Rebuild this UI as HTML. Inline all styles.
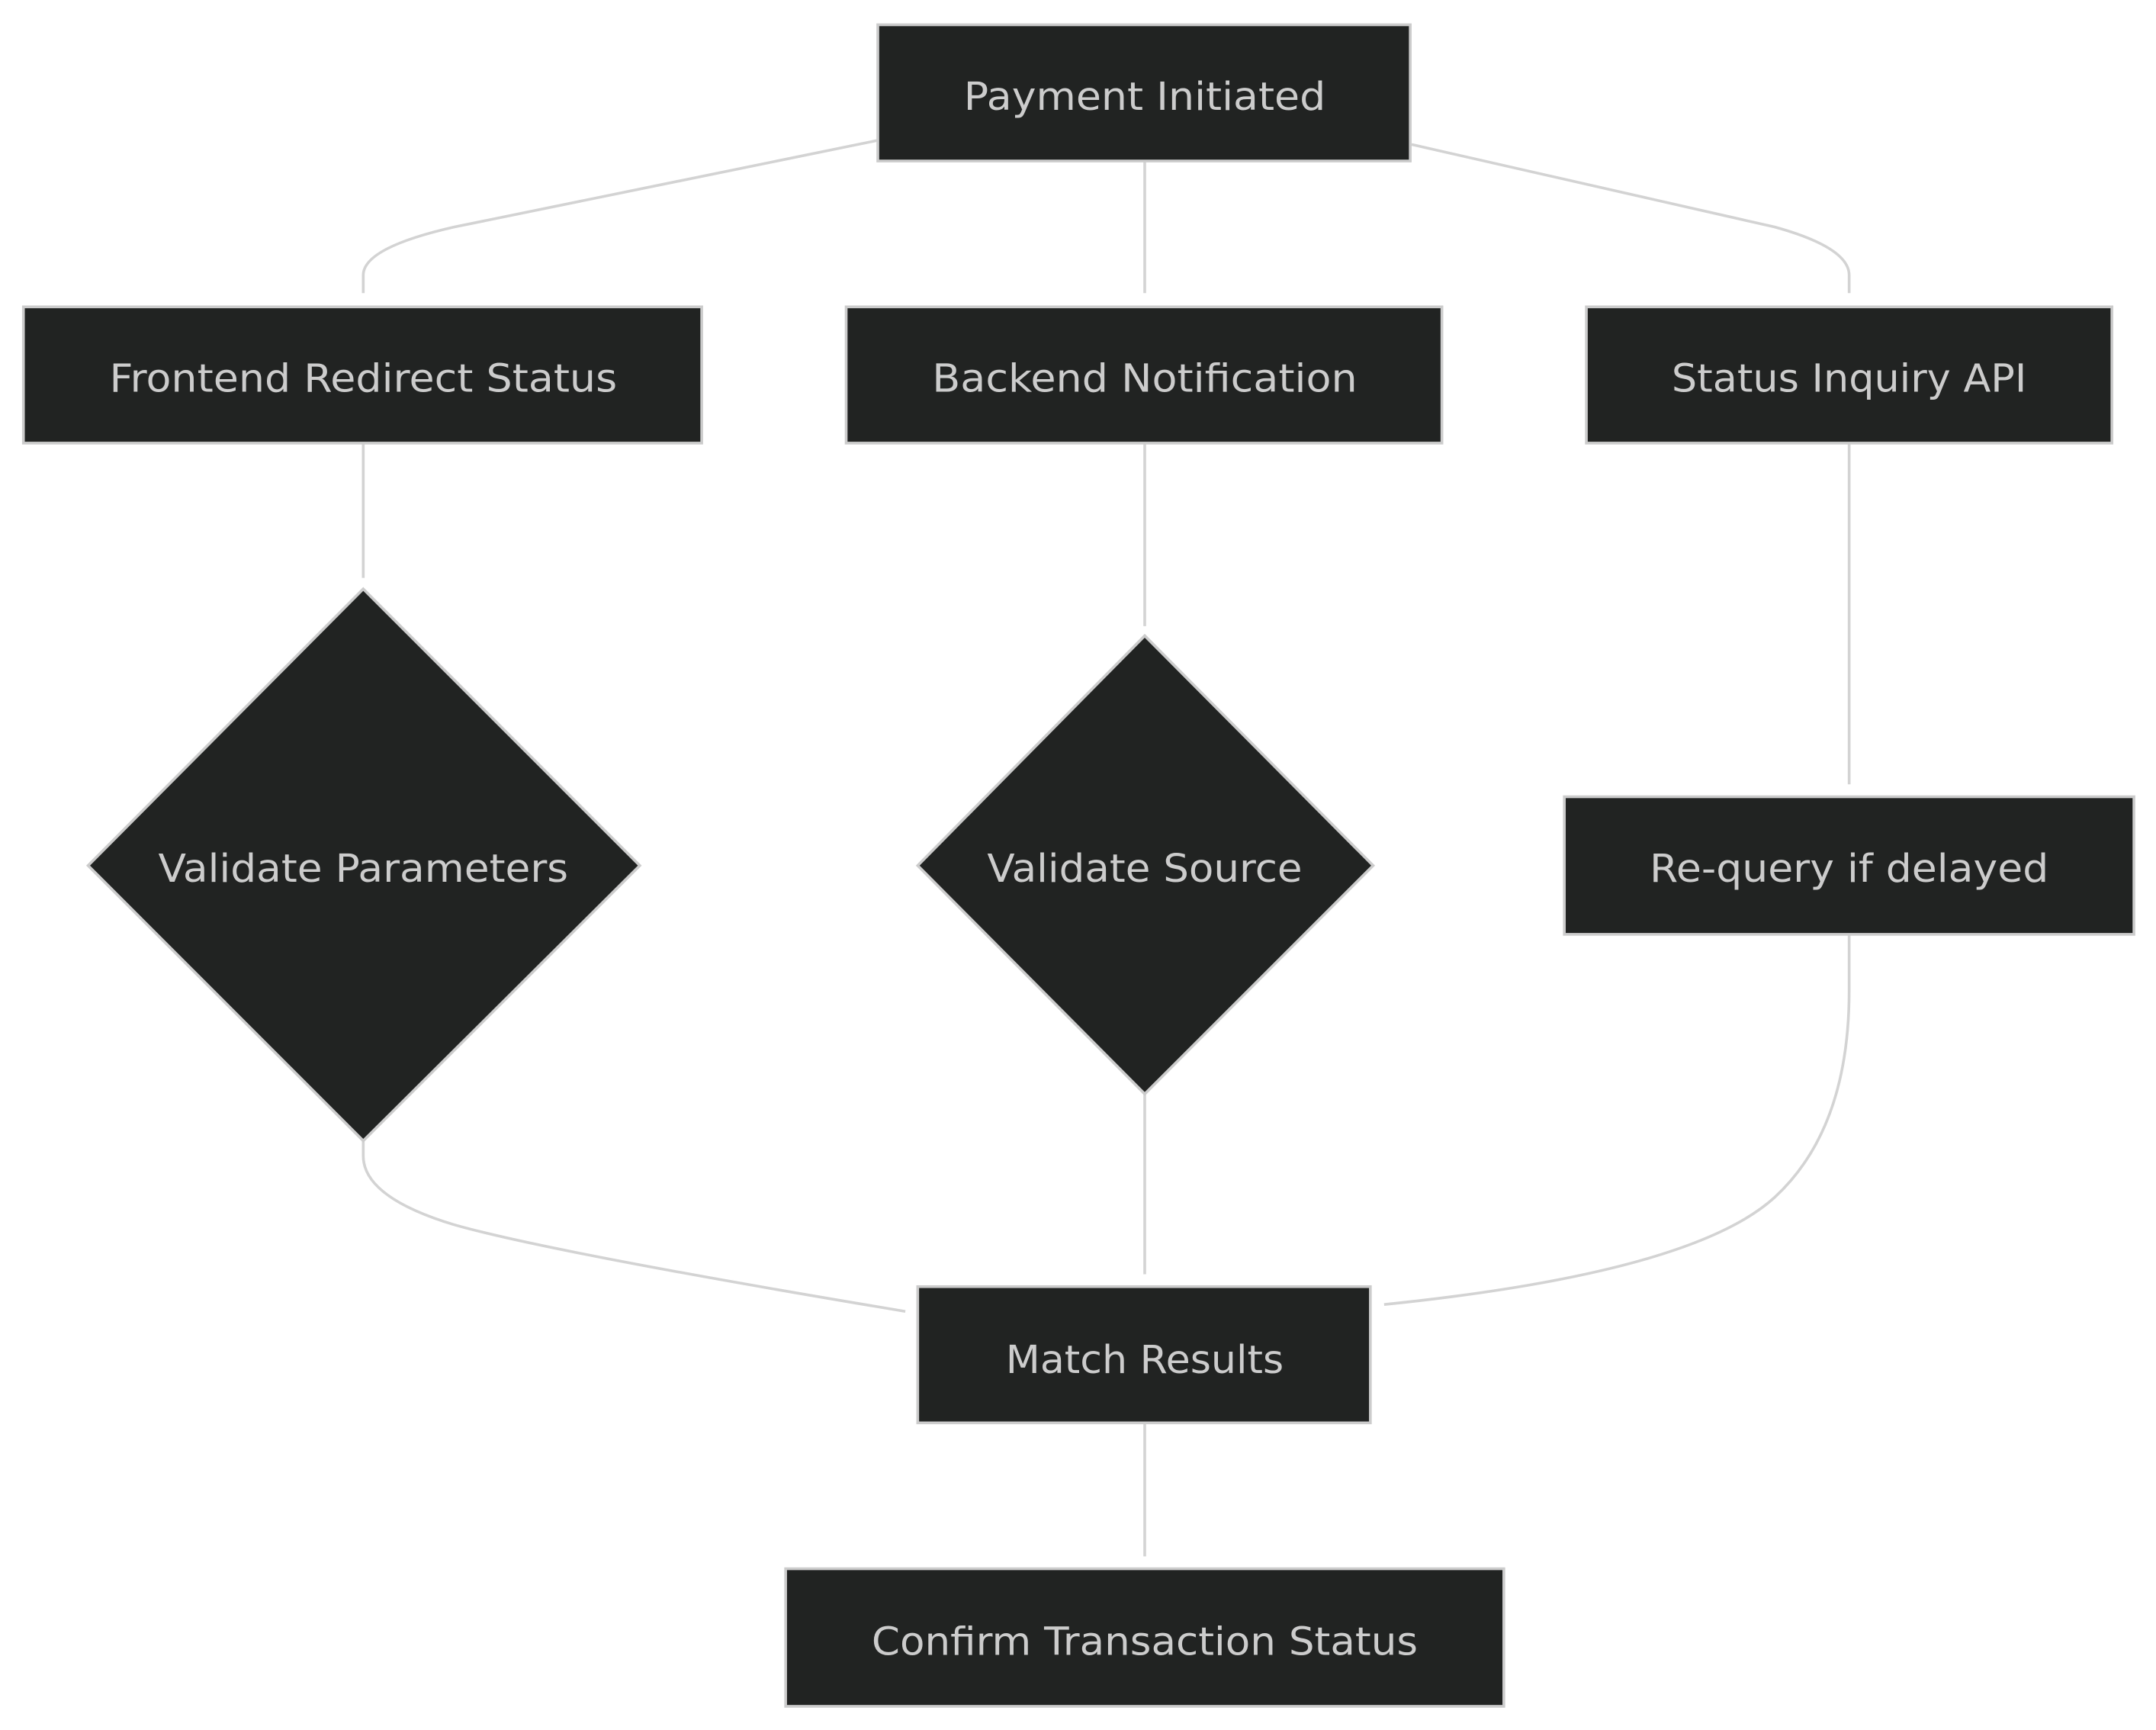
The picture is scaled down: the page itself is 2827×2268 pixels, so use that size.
<!DOCTYPE html>
<html><head><meta charset="utf-8"><style>
html,body{margin:0;padding:0;background:#fff;width:2827px;height:2268px;overflow:hidden}
svg{display:block}
text{font-family:"DejaVu Sans","Liberation Sans",sans-serif;font-size:28px;fill:#cccccc;text-anchor:middle;dominant-baseline:central}
</style></head><body>
<svg width="2827" height="2268" viewBox="0 0 1567 1257.2" xmlns="http://www.w3.org/2000/svg">
<g fill="none" stroke="#d3d3d3" stroke-width="2">
<path d="M638,102 L330,165 Q264,180 264,200 L264,213"/>
<path d="M832,117 L832,213"/>
<path d="M1026,105 L1290,165 Q1344,180 1344,200 L1344,213"/>
<path d="M264,322 L264,420"/>
<path d="M832,322 L832,455"/>
<path d="M1344,322 L1344,570"/>
<path d="M264,829 L264,840 Q264,870 330,890 Q400,910 658,953"/>
<path d="M832,795 L832,926"/>
<path d="M1344,679 L1344,720 Q1344,820 1290,870 Q1230,925 1006,948"/>
<path d="M832,1034 L832,1131"/>
</g>
<g fill="#212322" stroke="#cccccc" stroke-width="2">
<rect x="638" y="18" width="387" height="99"/>
<rect x="17" y="223" width="493" height="99"/>
<rect x="615" y="223" width="433" height="99"/>
<rect x="1153" y="223" width="382" height="99"/>
<polygon points="264,428 465,629 264,829 64,629"/>
<polygon points="832,462 998,629 832,795 667,629"/>
<rect x="1137" y="579" width="414" height="100"/>
<rect x="667" y="935" width="329" height="99"/>
<rect x="571" y="1140" width="522" height="100"/>
</g>
<text x="832" y="70" textLength="263" lengthAdjust="spacingAndGlyphs">Payment Initiated</text>
<text x="264" y="275" textLength="369" lengthAdjust="spacingAndGlyphs">Frontend Redirect Status</text>
<text x="832" y="275" textLength="309" lengthAdjust="spacingAndGlyphs">Backend Notification</text>
<text x="1344" y="275" textLength="258" lengthAdjust="spacingAndGlyphs">Status Inquiry API</text>
<text x="264" y="631" textLength="298" lengthAdjust="spacingAndGlyphs">Validate Parameters</text>
<text x="832" y="631" textLength="229" lengthAdjust="spacingAndGlyphs">Validate Source</text>
<text x="1344" y="631" textLength="290" lengthAdjust="spacingAndGlyphs">Re-query if delayed</text>
<text x="832" y="988" textLength="202" lengthAdjust="spacingAndGlyphs">Match Results</text>
<text x="832" y="1193" textLength="397" lengthAdjust="spacingAndGlyphs">Confirm Transaction Status</text>
</svg>
</body></html>
